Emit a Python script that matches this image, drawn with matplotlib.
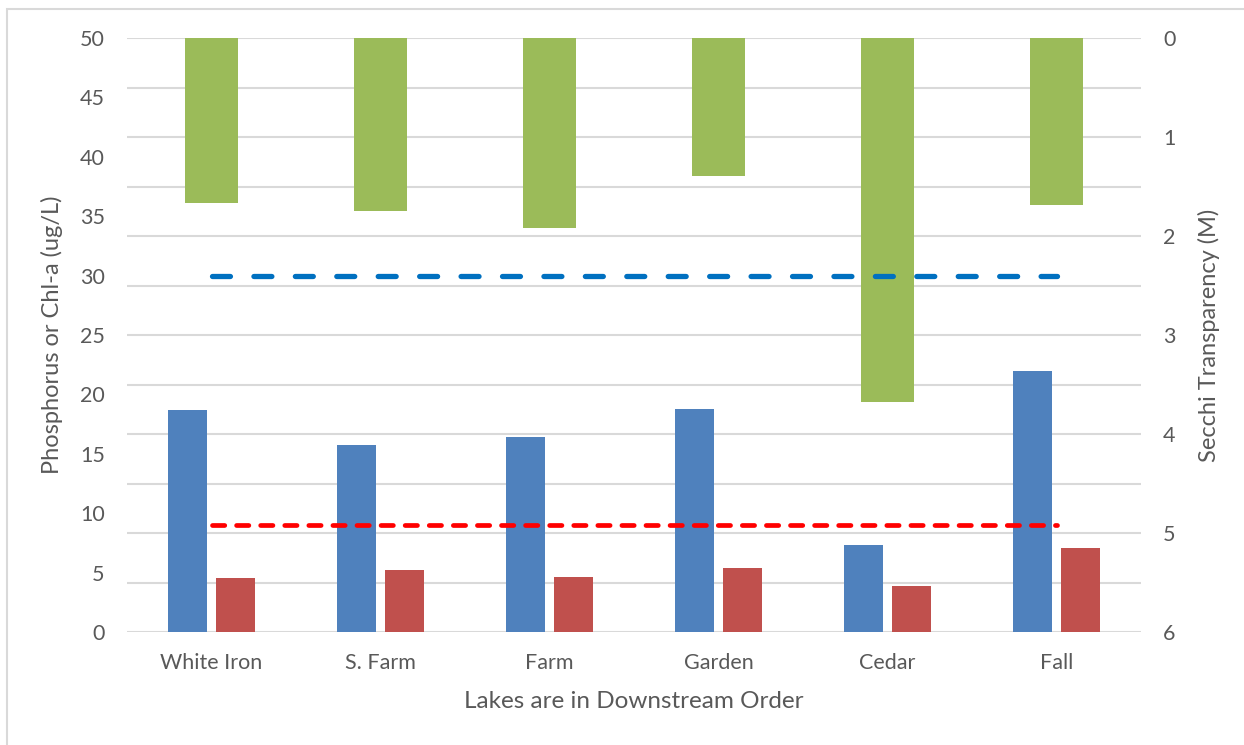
import matplotlib
matplotlib.use('Agg')
import matplotlib.pyplot as plt
from matplotlib.patches import Rectangle
import numpy as np

plt.rcParams['font.family'] = ['Lato', 'DejaVu Sans']

# data
lakes = ['White Iron', 'S. Farm', 'Farm', 'Garden', 'Cedar', 'Fall']
phosphorus = [18.7, 15.7, 16.4, 18.8, 7.3, 22.0]
chla = [4.55, 5.2, 4.6, 5.4, 3.9, 7.1]
secchi = [1.67, 1.75, 1.92, 1.39, 3.68, 1.69]
tp_standard = [30] * 6
chla_standard = [9] * 6

txt = '#595959'
grid = '#D9D9D9'

fig = plt.figure(figsize=(12.44, 7.45), dpi=100)
ax2 = fig.add_axes([127 / 1244, 113 / 745, 1014 / 1244, 594 / 745])
ax = ax2.twinx()

x = np.arange(len(lakes))

# secchi (right axis, inverted) - drawn behind
ax2.bar(x, secchi, width=0.314, color='#9BBB59', zorder=2)
ax2.set_ylim(6, 0)
ax2.yaxis.set_ticks_position('right')
ax2.yaxis.set_label_position('right')
ax2.set_yticks([0, 1, 2, 3, 4, 5, 6])
ax2.set_yticks(np.arange(0.5, 6, 1), minor=True)
ax2.grid(True, which='both', axis='y', color=grid, lw=1.5, zorder=0)
ax2.set_axisbelow(True)
ax2.tick_params(axis='y', which='both', length=0, pad=16, labelsize=15.5, labelcolor=txt)
ax2.set_ylabel('Secchi Transparency (M)', color=txt, fontsize=17, labelpad=16)
ax2.set_xlim(-0.5, 5.5)
ax2.set_xticks(x)
ax2.set_xticklabels(lakes)
ax2.tick_params(axis='x', length=0, pad=15, labelsize=15.5, labelcolor=txt)
ax2.set_xlabel('Lakes are in Downstream Order', color=txt, fontsize=17.5, labelpad=13)

# phosphorus / chl-a (left axis) on top
ax.set_zorder(ax2.get_zorder() + 1)
ax.patch.set_visible(False)
ax.yaxis.set_ticks_position('left')
ax.yaxis.set_label_position('left')
ax.bar(x - 0.142, phosphorus, width=0.225, color='#4F81BD')
ax.bar(x + 0.142, chla, width=0.225, color='#C0504D')
ax.plot(x, tp_standard, color='#0070C0', lw=3.8, dashes=(3.4, 4.45),
        dash_capstyle='round', solid_capstyle='round')
ax.plot(x, chla_standard, color='#FF0000', lw=3.4, dashes=(2.6, 2.5),
        dash_capstyle='round')
ax.set_ylim(0, 50)
ax.set_yticks(range(0, 51, 5))
ax.tick_params(axis='y', length=0, pad=16, labelsize=15.5, labelcolor=txt)
ax.set_ylabel('Phosphorus or Chl-a (ug/L)', color=txt, fontsize=17, labelpad=12)
ax.set_xlim(-0.5, 5.5)

for a in (ax, ax2):
    for s in a.spines.values():
        s.set_visible(False)

# outer frame
fig.patches.append(Rectangle((7 / 1244, -0.1), 1.2, 1 - 9 / 745 + 0.1,
                             transform=fig.transFigure, fill=False,
                             edgecolor=grid, lw=1.5))

fig.savefig('out.png', dpi=100)
